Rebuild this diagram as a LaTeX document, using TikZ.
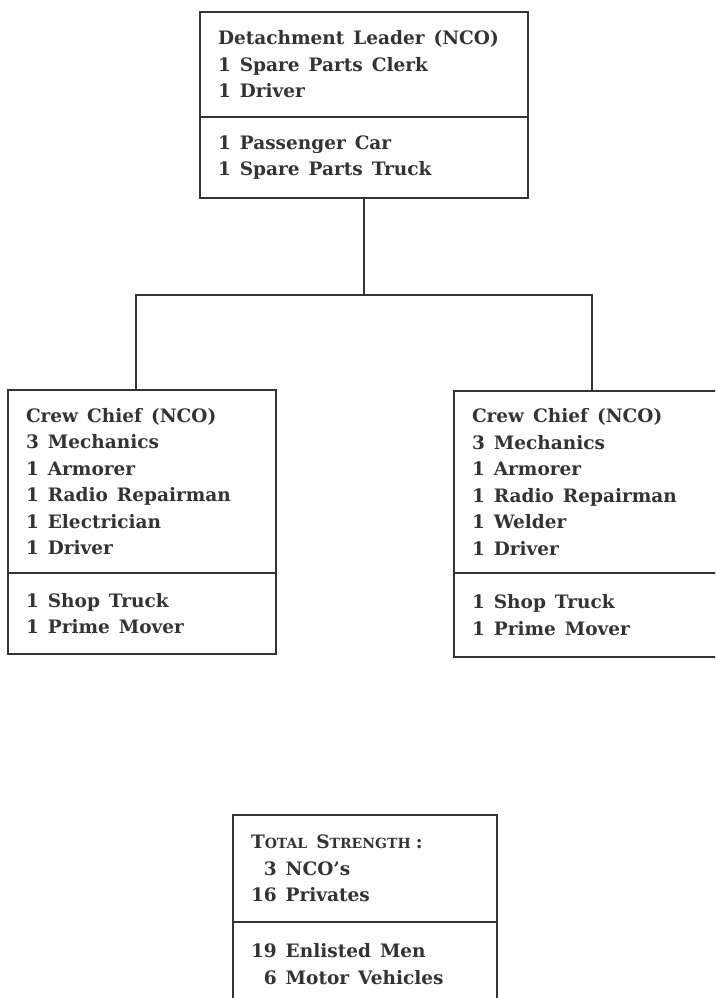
\documentclass[tikz,border=0pt]{standalone}
\usepackage{fontspec}
\setmainfont{DejaVu Serif}
\usetikzlibrary{positioning}

\newcommand\smcap[2]{#1{\fontsize{14}{26.5}\selectfont #2}}
\newcommand\wgap{\hspace{9pt}}

\begin{document}
\begin{tikzpicture}[x=1pt,y=1pt,
  orgpart/.style={draw=black!80, line width=1.3pt, outer sep=0pt,
    inner xsep=18pt, inner ysep=0pt, align=left, text width=#1,
    font=\fontsize{18.5}{26.5}\selectfont\bfseries, text=black!80},
  wire/.style={draw=black!80, line width=1.3pt}]

\useasboundingbox (0,0) rectangle (715,-998);
\clip (0,0) rectangle (715,-998);

\coordinate (dropa) at (136,-295);
\coordinate (dropb) at (592,-295);

% detachment leader
\node[orgpart=292pt, minimum height=105pt, anchor=north west] (lead) at (200,-12)
  {Detachment\wgap Leader\wgap (NCO)\\1\wgap Spare\wgap Parts\wgap Clerk\\1\wgap Driver};
\node[orgpart=292pt, minimum height=81pt, below=0pt of lead] (leadveh)
  {1\wgap Passenger\wgap Car\\1\wgap Spare\wgap Parts\wgap Truck};

% crews
\node[orgpart=232pt, minimum height=183pt, anchor=north west] (crewa) at (8,-390)
  {Crew\wgap Chief\wgap (NCO)\\3\wgap Mechanics\\1\wgap Armorer\\1\wgap Radio\wgap Repairman\\1\wgap Electrician\\1\wgap Driver};
\node[orgpart=232pt, minimum height=81pt, below=0pt of crewa] (crewaveh)
  {1\wgap Shop\wgap Truck\\1\wgap Prime\wgap Mover};

\node[orgpart=245pt, minimum height=182pt, anchor=north west] (crewb) at (454,-391)
  {Crew\wgap Chief\wgap (NCO)\\3\wgap Mechanics\\1\wgap Armorer\\1\wgap Radio\wgap Repairman\\1\wgap Welder\\1\wgap Driver};
\node[orgpart=245pt, minimum height=84pt, below=0pt of crewb] (crewbveh)
  {1\wgap Shop\wgap Truck\\1\wgap Prime\wgap Mover};

% totals
\node[orgpart=228pt, minimum height=107pt, anchor=north west] (total) at (233,-815)
  {\smcap{T}{OTAL}\wgap\smcap{S}{TRENGTH}\hspace{5pt}:\\\phantom{1}3\wgap NCO's\\16\wgap Privates};
\node[orgpart=228pt, minimum height=84pt, below=0pt of total] (totalveh)
  {19\wgap Enlisted\wgap Men\\\phantom{1}6\wgap Motor\wgap Vehicles};

\draw[wire] (leadveh.south) -- (leadveh.south |- dropa);
\draw[wire] (dropa |- crewa.north) -- (dropa) -- (dropb) -- (dropb |- crewb.north);
\end{tikzpicture}
\end{document}
